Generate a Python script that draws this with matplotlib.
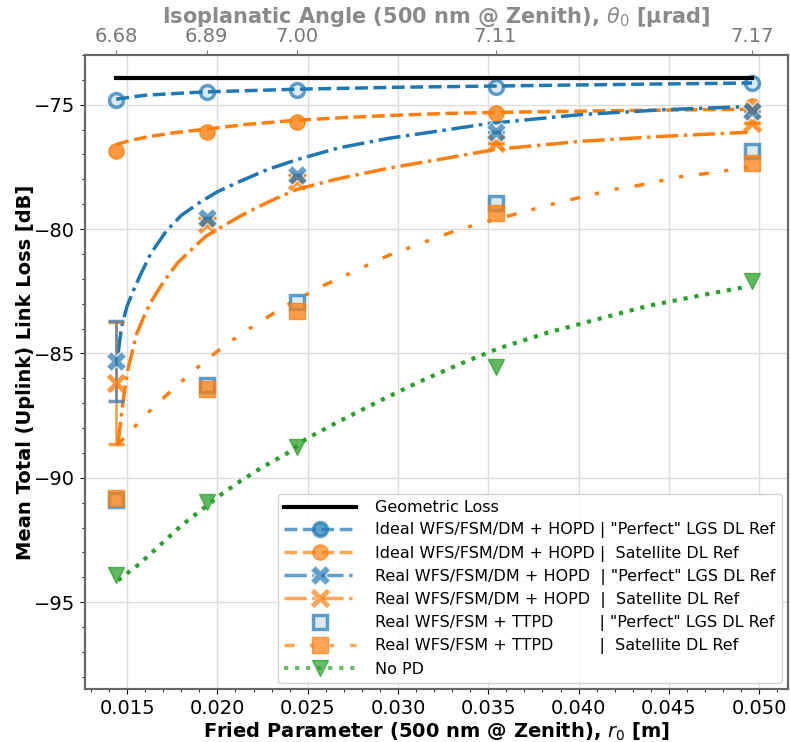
"""
Uplink link loss vs Fried parameter, with isoplanatic angle on the top axis.
"""

import matplotlib
matplotlib.use("Agg")
import matplotlib.pyplot as plt
from matplotlib.lines import Line2D
from matplotlib.ticker import MultipleLocator

# measured points (one per turbulence profile)
r0 = [0.0144, 0.0194, 0.0244, 0.0354, 0.0496]
theta0_labels = ["6.68", "6.89", "7.00", "7.11", "7.17"]

geometric = [-73.93, -73.93, -73.93, -73.93, -73.93]
ideal_lgs = [-74.80, -74.49, -74.40, -74.27, -74.13]
ideal_sat = [-76.87, -76.11, -75.71, -75.33, -75.07]
real_lgs = [-85.30, -79.55, -77.81, -76.11, -75.27]
real_sat = [-86.19, -79.80, -78.08, -76.54, -75.73]
tt_lgs = [-90.90, -86.27, -82.93, -78.94, -76.87]
tt_sat = [-90.80, -86.43, -83.29, -79.35, -77.34]
no_pd = [-93.92, -90.98, -88.77, -85.55, -82.09]
real_lgs_err = [1.6, 0, 0, 0, 0]
real_sat_err = [2.45, 0, 0, 0, 0]

# fit curves
fit_ideal_lgs_x = [0.0144, 0.0160, 0.0192, 0.0243, 0.0300, 0.0355, 0.0430, 0.0496]
fit_ideal_lgs_y = [-74.78, -74.62, -74.49, -74.38, -74.30, -74.25, -74.18, -74.13]

fit_ideal_sat_x = [0.0144, 0.0153, 0.0163, 0.0177, 0.0192, 0.0215, 0.0243, 0.0270,
                   0.0300, 0.0328, 0.0370, 0.0422, 0.0496]
fit_ideal_sat_y = [-76.60, -76.42, -76.27, -76.12, -76.00, -75.80, -75.63, -75.52,
                   -75.42, -75.35, -75.29, -75.24, -75.18]

fit_real_lgs_x = [0.0145, 0.0147, 0.0150, 0.01533, 0.0157, 0.0163, 0.01717, 0.0180,
                  0.0190, 0.0200, 0.0212, 0.0228, 0.0244, 0.0267, 0.0295, 0.0328,
                  0.0350, 0.0401, 0.0448, 0.0496]
fit_real_lgs_y = [-85.0, -83.9, -83.1, -82.5, -81.9, -81.0, -80.08, -79.45,
                  -78.94, -78.5, -78.1, -77.6, -77.21, -76.74, -76.35, -76.0,
                  -75.76, -75.4, -75.2, -75.07]

fit_real_sat_x = [0.0145, 0.01478, 0.01506, 0.01552, 0.0160, 0.01635, 0.01708, 0.01781,
                  0.0186, 0.01938, 0.0205, 0.02159, 0.0230, 0.02438, 0.02655, 0.0295,
                  0.03277, 0.03537, 0.04015, 0.04475, 0.04935]
fit_real_sat_y = [-88.64, -86.9, -85.6, -84.23, -83.4, -82.89, -82.05, -81.35,
                  -80.8, -80.28, -79.8, -79.35, -78.85, -78.41, -78.0, -77.55,
                  -77.14, -76.80, -76.47, -76.27, -76.11]

fit_tt_sat_x = [0.01443, 0.01561, 0.0164, 0.01736, 0.01842, 0.01929, 0.02039, 0.02149,
                0.02247, 0.02352, 0.02486, 0.0259, 0.0295, 0.03298, 0.03436, 0.03675,
                0.03813, 0.03942, 0.04061, 0.0419, 0.04328, 0.04438, 0.04576, 0.04705,
                0.04824, 0.04962]
fit_tt_sat_y = [-88.7, -87.8, -87.2, -86.56, -85.86, -85.32, -84.69, -84.13,
                -83.69, -83.19, -82.66, -82.26, -81.05, -80.12, -79.81, -79.35,
                -79.08, -78.84, -78.64, -78.41, -78.25, -78.08, -77.88, -77.77,
                -77.64, -77.5]

fit_no_pd_x = [0.0145, 0.0157, 0.0168, 0.0180, 0.01883, 0.02011, 0.02131, 0.0225,
               0.02397, 0.0249, 0.02655, 0.0290, 0.03115, 0.0335, 0.03556, 0.0383,
               0.04107, 0.04383, 0.04659, 0.04935]
fit_no_pd_y = [-94.12, -93.45, -92.72, -91.92, -91.45, -90.72, -90.11, -89.57,
               -88.97, -88.44, -87.80, -86.9, -86.15, -85.4, -84.80, -84.16,
               -83.62, -83.09, -82.69, -82.31]

BLUE = "#1f77b4"
ORANGE = "#ff7f0e"
GREEN = "#2ca02c"
LW = 2.5
DASHDOTDOT = (0, (2.9, 4.4, 1.2, 4.6, 1.2, 4.6))
BLUE_EDGE = (0.12, 0.47, 0.71, 0.7)
BLUE_FACE = (0.12, 0.47, 0.71, 0.15)

fig = plt.figure(figsize=(7.9, 7.42), dpi=100)
ax = fig.add_axes([0.1076, 0.071, 0.89, 0.855])

# fit lines
ax.plot(r0, geometric, color="black", lw=3, zorder=3)
ax.plot(fit_ideal_lgs_x, fit_ideal_lgs_y, color=BLUE, lw=LW, ls="--")
ax.plot(fit_ideal_sat_x, fit_ideal_sat_y, color=ORANGE, lw=LW, ls="--")
ax.plot(fit_real_lgs_x, fit_real_lgs_y, color=BLUE, lw=LW, ls="-.")
ax.plot(fit_real_sat_x, fit_real_sat_y, color=ORANGE, lw=LW, ls="-.")
ax.plot(fit_tt_sat_x, fit_tt_sat_y, color=ORANGE, lw=LW, ls=DASHDOTDOT)
ax.plot(fit_no_pd_x, fit_no_pd_y, color=GREEN, lw=LW + 0.5, ls=":")

# error bars (first point only)
ax.errorbar(r0, real_sat, yerr=real_sat_err, fmt="none", ecolor=ORANGE, elinewidth=1.8,
            capsize=6, capthick=2.5, alpha=0.8)
ax.errorbar(r0, real_lgs, yerr=real_lgs_err, fmt="none", ecolor="#4f7fa8", elinewidth=1.8,
            capsize=6, capthick=2.5, alpha=0.8)

# markers
ax.plot(r0, ideal_lgs, ls="none", marker="o", ms=10, mew=2.5, mec=BLUE_EDGE, mfc=BLUE_FACE)
ax.plot(r0, ideal_sat, ls="none", marker="o", ms=11, color=ORANGE, alpha=0.8)
ax.plot(r0, tt_lgs, ls="none", marker="s", ms=10, mew=2.5, mec=BLUE_EDGE, mfc=BLUE_FACE)
ax.plot(r0, tt_sat, ls="none", marker="s", ms=11, color=ORANGE, alpha=0.75)
ax.plot(r0, real_sat, ls="none", marker="x", ms=11, mew=3.5, color=ORANGE, alpha=0.8)
ax.plot(r0, real_lgs, ls="none", marker="X", ms=14, mew=1.0, color=BLUE, alpha=0.7,
        mec="white")
ax.plot(r0, no_pd, ls="none", marker="v", ms=12, color=GREEN, alpha=0.75)

ax.set_xlim(0.01267, 0.0516)
ax.set_ylim(-98.5, -73.0)
ax.xaxis.set_major_locator(MultipleLocator(0.005))
ax.xaxis.set_minor_locator(MultipleLocator(0.001))
ax.yaxis.set_major_locator(MultipleLocator(5))
ax.yaxis.set_minor_locator(MultipleLocator(1))
ax.xaxis.set_major_formatter(plt.FormatStrFormatter("%.3f"))
ax.tick_params(labelsize=14)
ax.grid(True, which="major", color="#dddddd", lw=1)
for s in ax.spines.values():
    s.set_color("#666666")
    s.set_linewidth(1.5)

ax.set_xlabel(r"Fried Parameter (500 nm @ Zenith), $r_0$ [m]", fontsize=14,
              fontweight="bold", labelpad=2)
ax.set_ylabel("Mean Total (Uplink) Link Loss [dB]", fontsize=14, fontweight="bold",
              labelpad=-1)

# top axis: isoplanatic angle
top = ax.twiny()
top.set_xlim(ax.get_xlim())
top.set_xticks(r0)
top.set_xticklabels(theta0_labels, fontsize=14, color="#777777")
top.tick_params(axis="x", colors="#777777", pad=3)
top.set_xlabel(r"Isoplanatic Angle (500 nm @ Zenith), $\theta_0$ [µrad]", fontsize=15,
               fontweight="bold", color="#8a8a8a", labelpad=3)
for s in top.spines.values():
    s.set_color("#666666")
    s.set_linewidth(1.5)

handles = [
    Line2D([], [], color="black", lw=3),
    Line2D([], [], color=BLUE, lw=LW, ls="--", marker="o", ms=10, mew=2.5,
           mec=BLUE_EDGE, mfc=BLUE_FACE, alpha=0.7),
    Line2D([], [], color=ORANGE, lw=LW, ls="--", marker="o", ms=11, alpha=0.7),
    Line2D([], [], color=BLUE, lw=LW, ls="-.", marker="X", ms=14, mec="white", mew=1.0, alpha=0.7),
    Line2D([], [], color=ORANGE, lw=LW, ls="-.", marker="x", ms=11, mew=3.5, alpha=0.7),
    Line2D([], [], ls="none", marker="s", ms=10, mew=2.5, mec=BLUE_EDGE, mfc=BLUE_FACE),
    Line2D([], [], color=ORANGE, lw=LW, ls=DASHDOTDOT, marker="s", ms=11, alpha=0.7),
    Line2D([], [], color=GREEN, lw=LW + 0.5, ls=":", marker="v", ms=12, alpha=0.7),
]
labels = [
    "Geometric Loss",
    'Ideal WFS/FSM/DM + HOPD | "Perfect" LGS DL Ref',
    "Ideal WFS/FSM/DM + HOPD |  Satellite DL Ref",
    'Real WFS/FSM/DM + HOPD  | "Perfect" LGS DL Ref',
    "Real WFS/FSM/DM + HOPD  |  Satellite DL Ref",
    'Real WFS/FSM + TTPD         | "Perfect" LGS DL Ref',
    "Real WFS/FSM + TTPD         |  Satellite DL Ref",
    "No PD",
]
ax.legend(handles, labels, loc="lower right", fontsize=11.5, handlelength=4.5,
          handletextpad=1.2, borderaxespad=0.4, labelspacing=0.45, framealpha=0.9)

fig.savefig("out.png", dpi=100)
